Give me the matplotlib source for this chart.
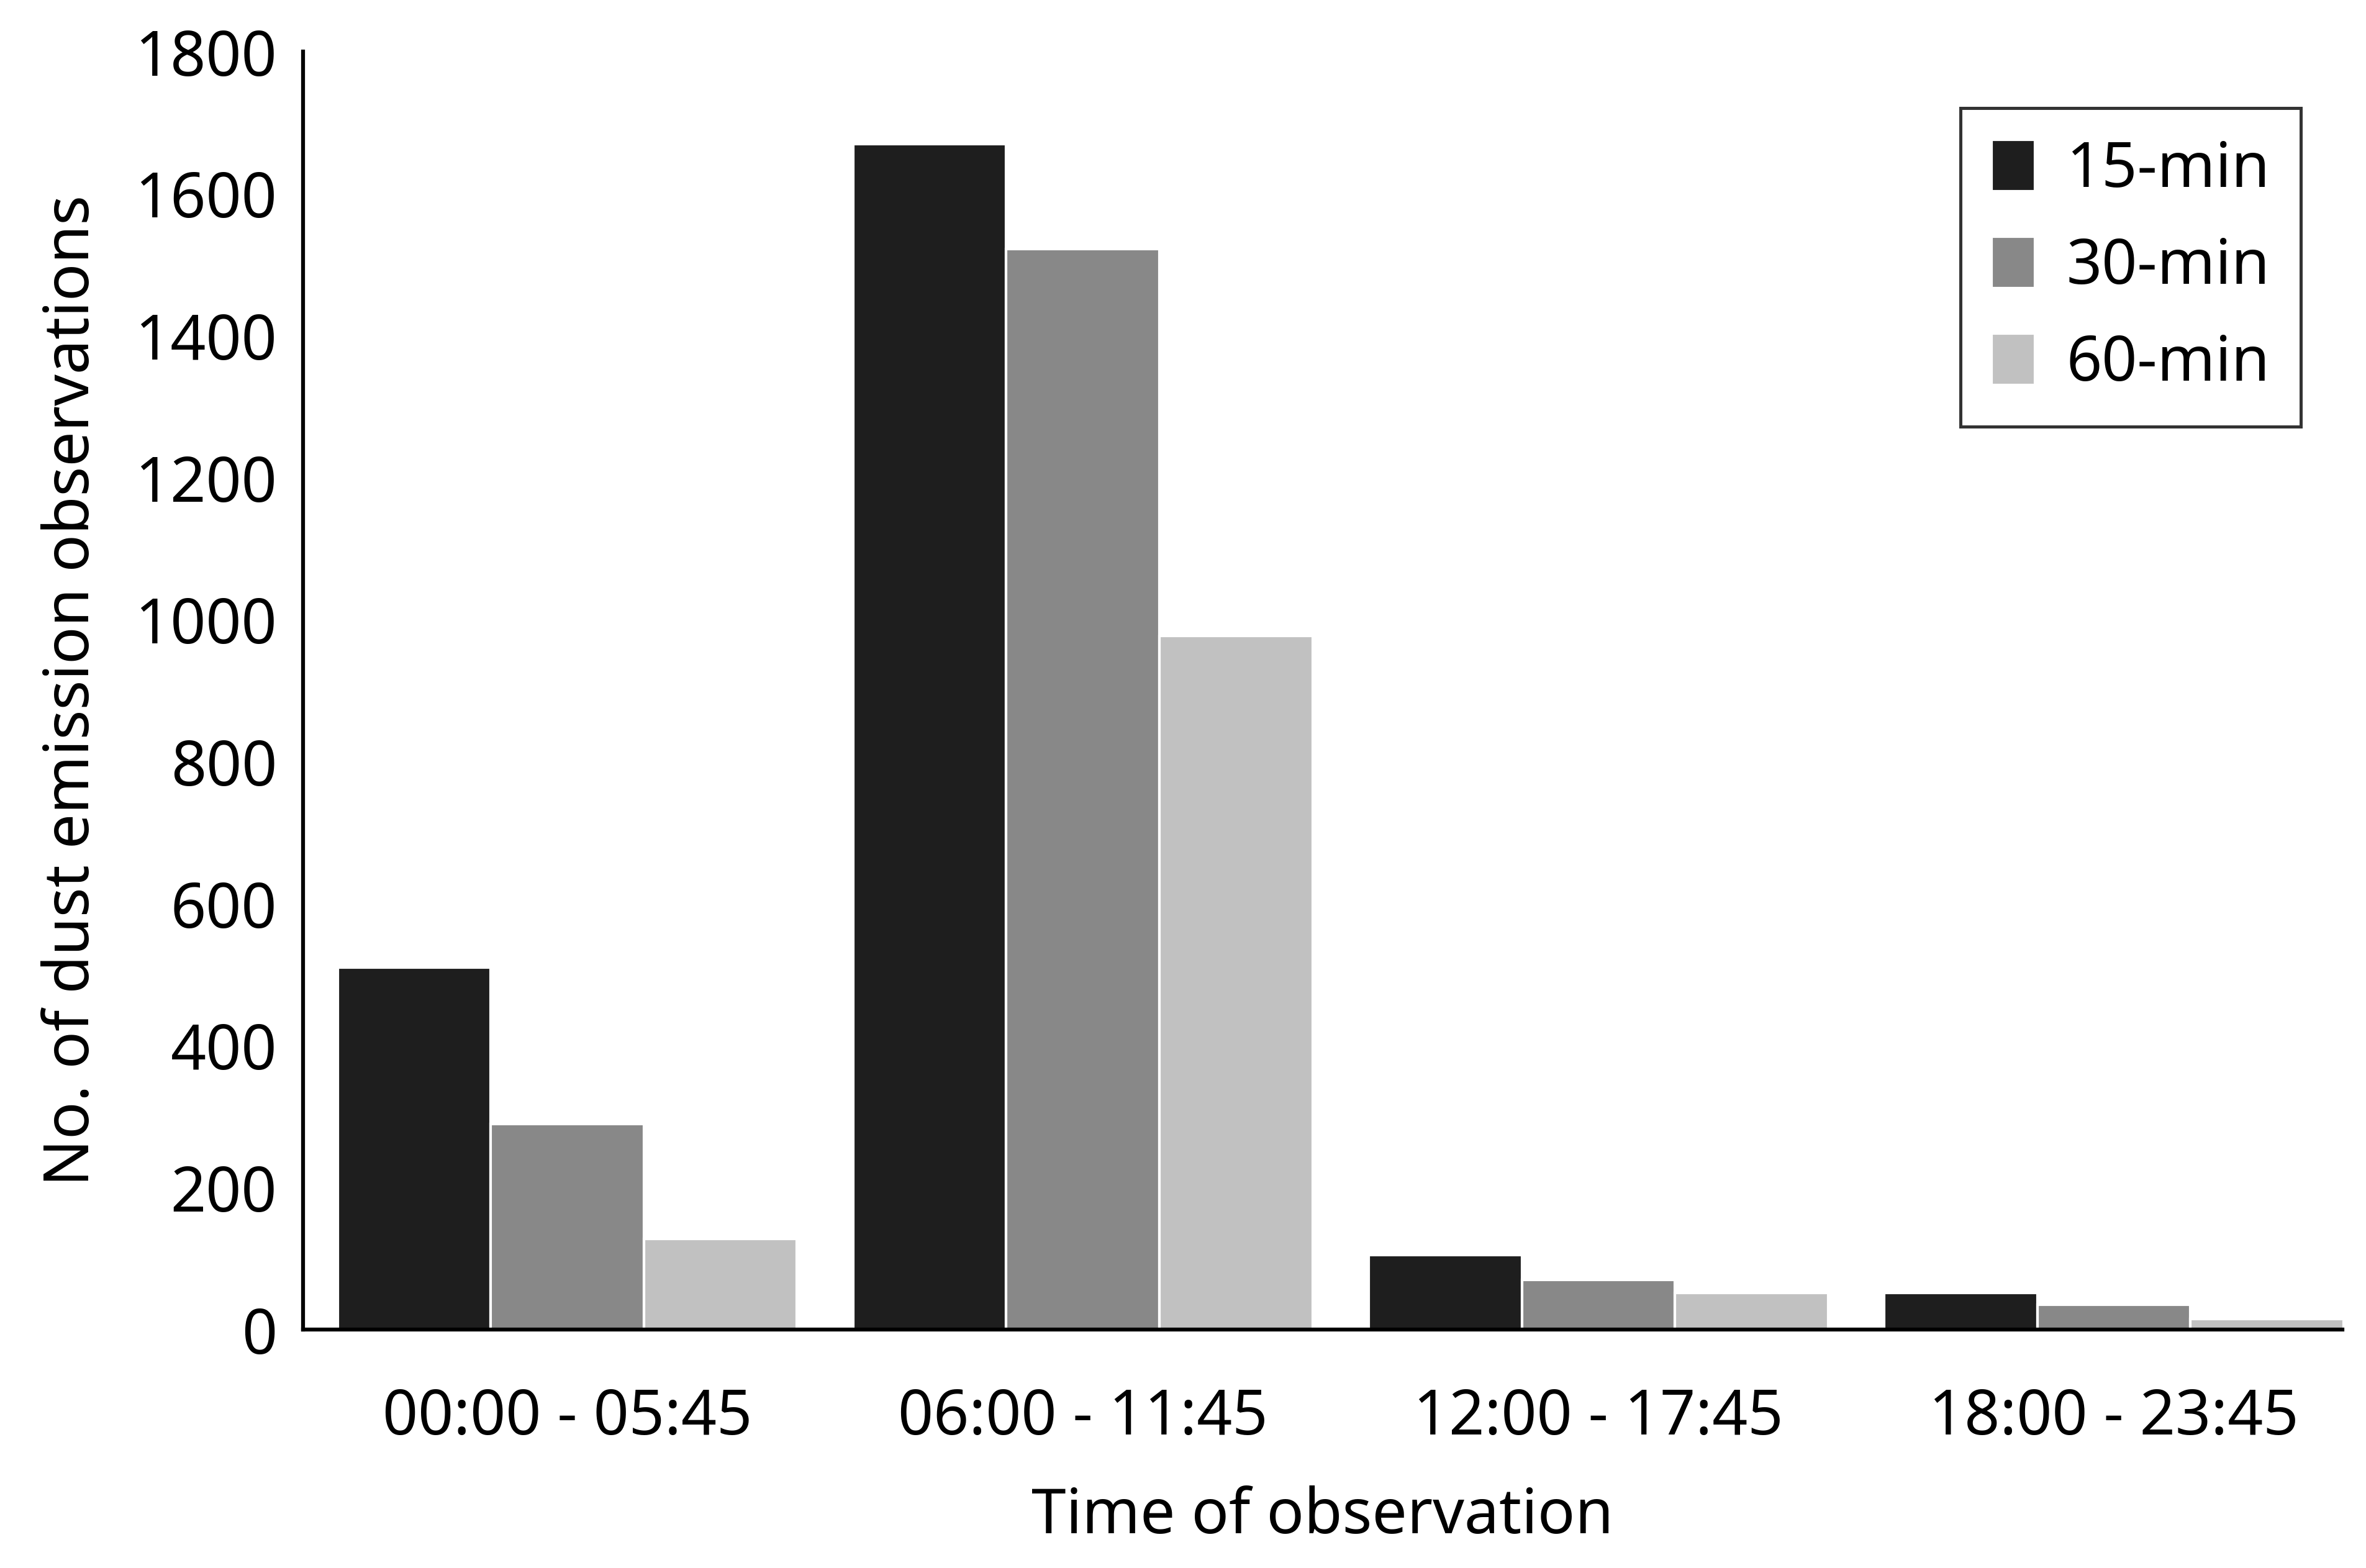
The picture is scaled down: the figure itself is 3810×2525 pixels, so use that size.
import matplotlib
matplotlib.use("Agg")
import matplotlib.pyplot as plt
import numpy as np

plt.rcParams['font.family'] = ['Noto Sans', 'DejaVu Sans']

categories = ["00:00 - 05:45", "06:00 - 11:45", "12:00 - 17:45", "18:00 - 23:45"]
series_names = ["15-min", "30-min", "60-min"]
v15 = [510, 1670, 105, 52]
v30 = [290, 1522, 70, 35]
v60 = [128, 977, 52, 15]
colors = ["#1e1e1e", "#888888", "#c1c1c1"]

fig = plt.figure(figsize=(12.7, 8.4167), dpi=300)
ax = fig.add_axes([0.128, 0.152, 0.862, 0.815])
x = np.arange(len(categories))
w = 0.297
for i, (vals, name) in enumerate(zip([v15, v30, v60], series_names)):
    ax.bar(x + (i - 1) * w, vals, w, color=colors[i], edgecolor="white", linewidth=1.0, label=name)

ax.set_xlim(-0.513, 3.443)
ax.set_ylim(0, 1800)
ax.set_yticks(range(0, 1801, 200))
ax.set_xticks(x)
ax.set_xticklabels(categories)
ax.tick_params(axis='x', length=0, pad=22, labelsize=24)
ax.tick_params(axis='y', length=0, pad=10, labelsize=24)
for s in ["top", "right"]:
    ax.spines[s].set_visible(False)
for s in ["left", "bottom"]:
    ax.spines[s].set_linewidth(1.5)
ax.set_xlabel("Time of observation", fontsize=24, labelpad=14)
ax.set_ylabel("No. of dust emission observations", fontsize=24, labelpad=12)
leg = ax.legend(loc="upper right", bbox_to_anchor=(0.995, 0.98), fontsize=24, frameon=True, fancybox=False,
                edgecolor="black", handlelength=0.7, handleheight=0.9, handletextpad=0.5, labelspacing=0.55,
                borderpad=0.5)
leg.get_frame().set_linewidth(1.2)
fig.savefig("out.png", dpi=300)
